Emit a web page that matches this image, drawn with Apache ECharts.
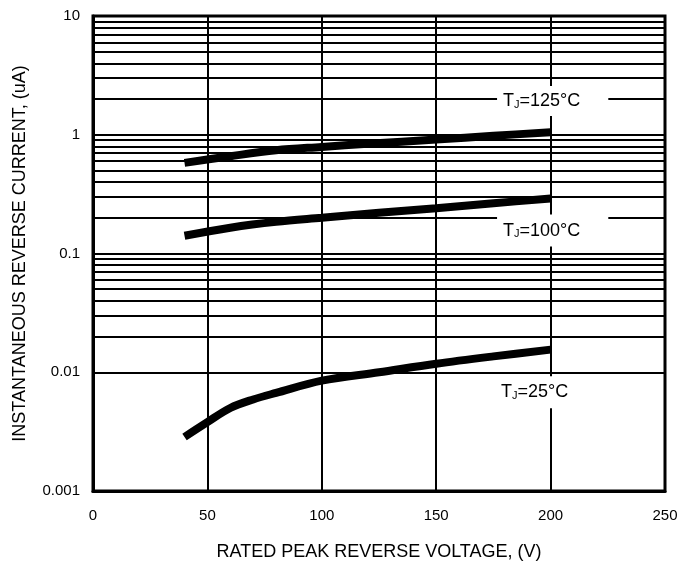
<!DOCTYPE html>
<html>
<head>
<meta charset="utf-8">
<script src="https://cdn.jsdelivr.net/npm/echarts@6/dist/echarts.min.js"></script>
<style>
html,body{margin:0;padding:0;background:#fff;}
#chart{width:678px;height:563px;}
</style>
</head>
<body>
<div id="chart"></div>
<script>
// Data
var voltage125 = [40, 60, 80, 100, 120, 150, 175, 200];
var current125 = [0.58, 0.66, 0.74, 0.79, 0.84, 0.91, 0.98, 1.05];
var voltage100 = [40, 60, 80, 100, 125, 150, 175, 200];
var current100 = [0.141, 0.165, 0.185, 0.20, 0.22, 0.24, 0.265, 0.29];
var voltage25 = [40, 50, 60, 70, 80, 100, 125, 150, 175, 200];
var current25 = [0.00285, 0.0038, 0.0050, 0.0059, 0.0067, 0.0085, 0.0100, 0.0118, 0.0136, 0.0155];
var yTickLabels = ['0.001', '0.01', '0.1', '1', '10'];
var xTickLabels = ['0', '50', '100', '150', '200', '250'];
var minorGridMultipliers = [2, 3, 4, 5, 6, 7, 8, 9];
var minorGridDecades = [0.001, 0.01, 0.1, 1];
var seriesNames = ['125', '100', '25'];

function pairs(xs, ys) { return xs.map(function (x, i) { return [x, ys[i]]; }); }

var minorLines = [];
minorGridDecades.forEach(function (d) {
  minorGridMultipliers.forEach(function (m) { minorLines.push({ yAxis: +(d * m).toPrecision(3) }); });
});

var font = 'Liberation Sans, Arial, sans-serif';

function tagLabel(temp, pad) {
  return {
    show: true,
    position: 'right',
    distance: 0,
    formatter: '{t|T}{s|J}{t|=' + temp + '°C}',
    backgroundColor: '#fff',
    padding: pad,
    rich: {
      t: { fontSize: 18, lineHeight: 20, color: '#000', fontFamily: font },
      s: { fontSize: 11, lineHeight: 20, color: '#000', fontFamily: font, padding: [7, 0, 0, 0] }
    }
  };
}

function tag(temp, x, y, pad) {
  return {
    symbol: 'circle', symbolSize: 0, silent: true,
    data: [{ coord: [x, y], label: tagLabel(temp, pad) }]
  };
}

var lineCommon = {
  type: 'line', smooth: 0.35, showSymbol: false, symbol: 'none',
  lineStyle: { color: '#000', width: 8, cap: 'butt' }, z: 5, silent: true
};

var chart = echarts.init(document.getElementById('chart'), null, { renderer: 'canvas' });
chart.setOption({
  animation: false,
  backgroundColor: '#fff',
  textStyle: { fontFamily: font, color: '#000' },
  grid: { left: 93, right: 13, top: 16, bottom: 72, containLabel: false, outerBoundsMode: 'none', show: true, borderColor: '#000', borderWidth: 3, backgroundColor: 'transparent' },
  xAxis: {
    type: 'value', min: 0, max: 250, interval: 50,
    name: 'RATED PEAK REVERSE VOLTAGE, (V)', nameLocation: 'middle', nameGap: 52,
    nameTextStyle: { fontSize: 18, color: '#000', fontFamily: font },
    axisLine: { show: true, lineStyle: { color: '#000', width: 3 } },
    axisTick: { show: false },
    axisLabel: { fontSize: 15, color: '#000', margin: 17, fontFamily: font, formatter: function (v) { return xTickLabels[Math.round(v / 50)]; } },
    splitLine: { show: true, lineStyle: { color: '#000', width: 2 } }
  },
  yAxis: {
    type: 'log', logBase: 10, min: 0.001, max: 10,
    name: 'INSTANTANEOUS REVERSE CURRENT, (uA)', nameLocation: 'middle', nameGap: 64,
    nameTextStyle: { fontSize: 18, color: '#000', fontFamily: font },
    axisLine: { show: true, lineStyle: { color: '#000', width: 3 } },
    axisTick: { show: false },
    axisLabel: { fontSize: 15, color: '#000', margin: 13, fontFamily: font, formatter: function (v) { return yTickLabels[Math.round(Math.log10(v)) + 3]; } },
    splitLine: { show: true, lineStyle: { color: '#000', width: 2 } }
  },
  series: [
    {
      type: 'line', data: [], silent: true, z: 2,
      markLine: { silent: true, symbol: 'none', label: { show: false }, lineStyle: { color: '#000', width: 2, type: 'solid' }, data: minorLines }
    },
    Object.assign({}, lineCommon, { name: seriesNames[0], data: pairs(voltage125, current125), markPoint: tag('125', 176.6, 1.92, [5, 28, 5, 6]) }),
    Object.assign({}, lineCommon, { name: seriesNames[1], data: pairs(voltage100, current100), markPoint: tag('100', 176.6, 0.156, [6, 28, 6, 6]) }),
    Object.assign({}, lineCommon, { name: seriesNames[2], data: pairs(voltage25, current25), markPoint: tag('25', 176.6, 0.0068, [6, 24, 6, 4]) })
  ]
});
</script>
</body>
</html>
